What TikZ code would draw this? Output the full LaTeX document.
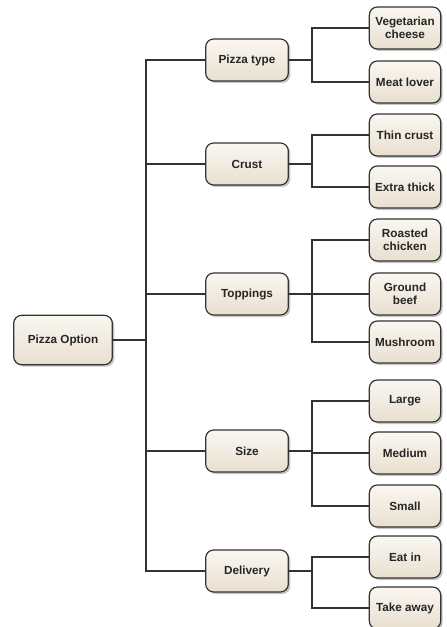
\documentclass[tikz,border=0pt]{standalone}
\usepackage{fontspec}
\setmainfont{Liberation Sans}
\usetikzlibrary{positioning,shadows}
\definecolor{boxtop}{HTML}{FAF7F1}
\definecolor{boxbot}{HTML}{E8DFCF}
\definecolor{edgegray}{HTML}{333333}
\tikzset{every picture/.style={line width=0.9pt}}

\begin{document}
\begin{tikzpicture}[x=0.75pt, y=-0.75pt,
  box/.style={draw=edgegray, line width=0.9pt, rounded corners=6pt, top color=boxtop, bottom color=boxbot,
    drop shadow={shadow xshift=1.5pt, shadow yshift=-1.5pt, fill=black!45, opacity=0.5},
    align=center, inner sep=1pt, text=black!85, font=\fontsize{8.8}{10}\selectfont\bfseries},
  rootbox/.style={box, minimum width=74pt, minimum height=37pt},
  midbox/.style={box, minimum width=62pt, minimum height=31.5pt},
  leafbox/.style={box, minimum width=53.5pt, minimum height=31.5pt},
  link/.style={draw=edgegray}]
  \useasboundingbox (0,0) rectangle (446,627);
  % root and main options
  \node[rootbox] (root) at (63,340) {Pizza Option};
  \node[midbox] (type) at (247,60) {Pizza type};
  \node[midbox] (crust) at (247,164) {Crust};
  \node[midbox] (top) at (247,294) {Toppings};
  \node[midbox] (size) at (247,451) {Size};
  \node[midbox] (deliv) at (247,571) {Delivery};
  % choices
  \node[leafbox] (veg) at (405,28) {Vegetarian\\cheese};
  \node[leafbox] (meat) at (405,82) {Meat lover};
  \node[leafbox] (thin) at (405,135) {Thin crust};
  \node[leafbox] (thick) at (405,187) {Extra thick};
  \node[leafbox] (chicken) at (405,240) {Roasted\\chicken};
  \node[leafbox] (beef) at (405,294) {Ground\\beef};
  \node[leafbox] (mush) at (405,342) {Mushroom};
  \node[leafbox] (large) at (405,401) {Large};
  \node[leafbox] (medium) at (405,453) {Medium};
  \node[leafbox] (small) at (405,506) {Small};
  \node[leafbox] (eat) at (405,557) {Eat in};
  \node[leafbox] (take) at (405,608) {Take away};
  % trunk
  \coordinate (trunk) at (146,340);
  \draw[link, line width=2.2pt] (root.east) -- (trunk);
  \foreach \n in {type,crust,top,size,deliv}{
    \draw[link] (trunk) |- (\n.west);
  }
  % branches
  \foreach \p/\c in {type/veg,type/meat,crust/thin,crust/thick,top/chicken,top/beef,top/mush,
                     size/large,size/medium,size/small,deliv/eat,deliv/take}{
    \draw[link] (\p.east) -- ++(23,0) |- (\c.west);
  }
\end{tikzpicture}
\end{document}
